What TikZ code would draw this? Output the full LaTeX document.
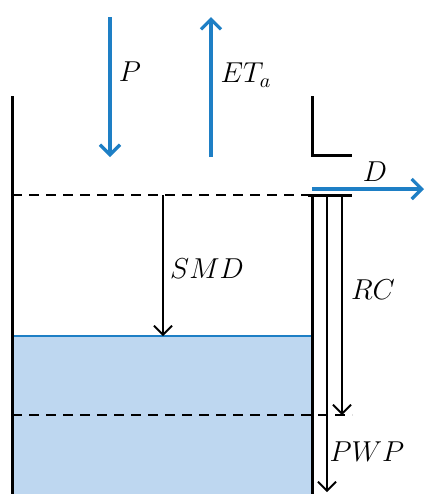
\documentclass[tikz,border=0pt]{standalone}
\usetikzlibrary{arrows.meta,positioning}

\definecolor{fluxblue}{RGB}{30,127,197}
\definecolor{waterfill}{RGB}{190,215,240}

\tikzset{
  wall/.style={line width=1.5pt},
  level/.style={line width=1pt,dash pattern=on 5pt off 3.5pt},
  flux/.style={fluxblue,line width=1.6pt,-{Straight Barb[length=5pt,width=10pt,line width=1.6pt]}},
  depth/.style={line width=0.75pt,-{Straight Barb[length=4.5pt,width=9pt,line width=0.9pt]}},
  lbl/.style={font=\fontsize{14.5}{17}\selectfont}
}

\begin{document}
\begin{tikzpicture}[x=0.5pt,y=-0.5pt]
\useasboundingbox (0,0) rectangle (425,494);

% soil water store
\fill[waterfill] (12,336) rectangle (312,494);
\draw[fluxblue,line width=0.6pt] (12,336) -- (312,336);

% levels
\draw[level] (12,195) -- (308,195);
\draw[level] (12,415) -- (352,415);

% walls
\draw[wall] (12,96) -- (12,494);
\draw[wall] (312,96) -- (312,155) -- (352,155);
\draw[wall] (308,195) -- (352,195);
\draw[wall] (312,195) -- (312,494);

% end points of the arrows
\coordinate (Ptop) at (110,17);
\coordinate (Pbot) at (110,157);
\coordinate (ETbot) at (211,157);
\coordinate (ETtop) at (211,17);
\coordinate (Dstart) at (312,189);
\coordinate (Dend) at (424,189);
\coordinate (SMDtop) at (163,195);
\coordinate (SMDbot) at (163,336);
\coordinate (RCtop) at (342,195);
\coordinate (RCbot) at (342,415);
\coordinate (PWPtop) at (327,195);
\coordinate (PWPbot) at (327,492);

% fluxes
\draw[flux] (Ptop) -- (Pbot);
\draw[flux] (ETbot) -- (ETtop);
\draw[flux] (Dstart) -- (Dend);

% depths
\draw[depth] (SMDtop) -- (SMDbot);
\draw[depth] (RCtop) -- (RCbot);
\draw[depth] (PWPtop) -- (PWPbot);

% labels
\node[lbl] (P) at (130,72) {$P$};
\node[lbl] (ETa) at (246,75) {$ET_a$};
\node[lbl] (D) at (375,172) {$D$};
\node[lbl] (SMD) at (207,269) {$SMD$};
\node[lbl] (RC) at (373,290) {$RC$};
\node[lbl] (PWP) at (367,452) {$PWP$};

\end{tikzpicture}
\end{document}
